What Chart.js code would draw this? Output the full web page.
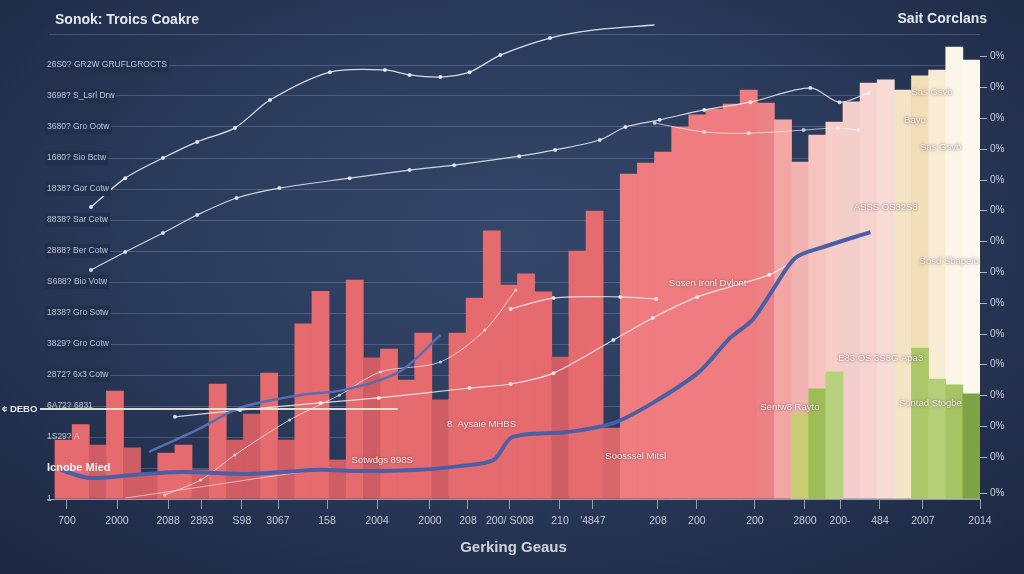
<!DOCTYPE html>
<html>
<head>
<meta charset="utf-8">
<script src="https://cdn.jsdelivr.net/npm/chart.js@4.4.1/dist/chart.umd.min.js"></script>
<style>
  html, body { margin: 0; padding: 0; }
  body {
    width: 1024px; height: 574px; overflow: hidden;
    background: radial-gradient(ellipse 75% 80% at 50% 42%, #34476a 0%, #2b3b5c 45%, #1b2640 100%);
  }
  canvas { display: block; }
</style>
</head>
<body>
<canvas id="myChart" width="1024" height="574"></canvas>
<script>
const chartTitle = "Sonok: Troics Coakre";
const sideTitle = "Sait Corclans";
const axisTitle = "Gerking Geaus";

// bar heights, one per slot, left to right
const barValues = [19, 24, 17.4, 34.8, 16.5, 7.7, 14.8, 17.4, 9.4, 37.1, 19, 27.4, 40.6, 19, 56.5, 67,
  12.6, 70.6, 45.5, 48.4, 38.4, 53.5, 32, 53.5, 64.8, 86.5, 69, 72.6, 66.8, 45.8, 80, 92.9, 22.9,
  104.8, 108.4, 111.9, 120, 123.9, 125.8, 127.4, 131.9, 127.7, 122.3, 108.7, 117.4, 121.6, 128.1,
  134.2, 135.2, 131.9, 136.5, 138.4, 145.8, 141.6];
const barSlots = barValues.map((v, i) => i);

// green bars in front
const greenSlots = [43, 44, 45, 50, 51, 52, 53];
const greenValues = [27.7, 35.5, 41, 48.7, 38.7, 36.8, 33.9];

// lines (x in slot units, y in axis units)
const blueMainX = [-0.2, 1.5, 3.9, 6.8, 10.9, 15, 17.3, 20.8, 23.1, 25.1, 26.2, 29.4, 32.1, 34.4, 37.1, 38.9, 40.2, 41.4, 42.7, 44.2, 47.1];
const blueMainY = [9.4, 6.8, 7.7, 8.7, 8.1, 9.4, 9, 9.4, 10.6, 12.6, 20, 21.6, 24.5, 31, 41, 51.9, 57.7, 67.4, 77.7, 81, 86.1];
const blueSideX = [5, 8, 10.3, 13.8, 16.4, 19.6, 22];
const blueSideY = [15.2, 22.9, 29.4, 33.5, 35.2, 41, 52.9];
const whiteTopX = [1.6, 3.6, 5.8, 7.8, 10, 12.05, 15.55, 18.76, 20.2, 22, 23.7, 25.5, 28.4, 31, 34.5];
const whiteTopY = [94.2, 103.5, 110, 115.2, 119.7, 128.7, 137.7, 138.4, 136.8, 136.1, 137.7, 143.2, 148.7, 151.3, 152.9];
const whiteMidX = [1.6, 3.6, 5.8, 7.8, 10.1, 12.6, 16.7, 20.2, 22.8, 26.6, 28.7, 31.3, 32.8, 34.8, 37.4, 40.1, 43.6, 45.3, 47];
const whiteMidY = [73.9, 79.7, 85.8, 91.6, 97.1, 100.3, 103.5, 106.1, 107.7, 110.6, 112.6, 115.8, 120, 122.3, 125.5, 128, 132.6, 128, 131];
const whiteBranchX = [34.5, 37.4, 40, 43.2, 45.2, 46.4];
const whiteBranchY = [121.3, 118.4, 118, 119, 119.7, 119];
const whiteShortX = [26.1, 28.6, 32.5, 34.6];
const whiteShortY = [61.3, 64.8, 65.2, 64.5];
const whiteLowX = [6.5, 10.3, 15, 18.4, 23.7, 26.1, 28.6, 32.1, 34.4, 37, 41.2, 42.7];
const whiteLowY = [26.5, 28.7, 31, 32.6, 35.8, 37.1, 40.6, 51.3, 58.4, 65.2, 72.3, 77.1];
const whiteRiseX = [5.9, 8, 10, 13.2, 16.1, 18.5, 22, 24.6, 26.4];
const whiteRiseY = [1.3, 6.1, 14.2, 25.5, 33.5, 41, 44.2, 54.5, 67.4];
const pinkLowX = [3.6, 6.8, 11.5, 15.6];
const pinkLowY = [0.3, 2.9, 6.8, 10];

// reference line
const deboValue = 29;
const deboEnd = 19.5;
const deboLabel = "¢ DEBO";

// tick labels
const yTickText = ["1", "Icnobe Mied", "1S29? A", "6A72? 6831", "2872? 6x3 Cotw", "3829? Gro Cotw",
  "1838? Gro Sotw", "S688? Bio Votw", "2888? Ber Cotw", "8838? Sar Cetw", "1838? Gor Cotw",
  "1680? Sio Bctw", "3680? Gro Ootw", "3698? S_Lsrl Drw", "26S0? GR2W GRUFLGROCTS", ""];
const rightTickVals = [1.9, 13.5, 23.5, 33.5, 43.5, 53.2, 63.2, 73.2, 83.2, 93.2, 102.9, 112.9, 122.9, 132.9, 142.9];
const xTickPos = [0.2, 3.12, 6.1, 8.08, 10.41, 12.52, 15.38, 18.3, 21.39, 23.61, 26.06, 28.98, 30.9, 34.7, 36.97, 40.36, 43.28, 45.33, 47.66, 50.17, 53.5];
const xTickLabels = ["700", "2000", "2088", "2893", "S98", "3067", "158", "2004", "2000", "208", "200/ S008",
  "210", "'4847", "208", "200", "200", "2800", "200-", "484", "2007", "2014"];

// in-chart notes
const noteText = ["Sosen Ironl Dvlont", "ASSS OS32S3", "Sosd Sbapeio", "E83 OS 3S3G Apa3", "Sentw8 Rayto",
  "Sontad Stogbe", "8. Aysaie MHBS", "Sotwdgs 898S", "Soosssel Mitsl", "Sas Gsvb", "Bayo", "Sas Gsvb"];
const noteX = [37.6, 48, 51.7, 47.7, 42.4, 50.6, 24.4, 18.6, 33.4, 50.7, 49.7, 51.2];
const noteY = [69.4, 94.2, 76.5, 45.5, 29.4, 31, 24.2, 12.6, 13.9, 131.3, 122, 113.5];

const lightColors = ["#ea8286", "#f3a6a4", "#f1b4b0", "#f6c3be", "#f7cdc8", "#f3cfcb", "#f6d3ce",
  "#f9dcd6", "#f5e4c6", "#f2dfb8", "#f8edd4", "#fcf6e8", "#fdf8ef"];
const greenColors = ["#c9cc72", "#9dbd58", "#b7d27c", "#a9c867", "#b5cf78", "#a6c463", "#7ea347"];

function barColor(i) {
  const v = barValues[i];
  const prev = i > 0 ? barValues[i - 1] : v;
  const next = i < barValues.length - 1 ? barValues[i + 1] : v;
  const low = v < 0.7 * Math.max(prev, next);
  if (i <= 31) return low ? "#cf5d63" : "#e66b6e";
  if (i <= 40) return low ? "#d8676b" : "#ef7d7f";
  return lightColors[i - 41];
}

function points(xs, ys) {
  return xs.map((x, k) => ({ x: x, y: ys[k] }));
}

function tickVal(c) {
  return c && c.tick ? c.tick.value : -1;
}

function lineSet(xs, ys, color, width, radius) {
  return {
    type: "line",
    data: points(xs, ys),
    borderColor: color,
    backgroundColor: color,
    borderWidth: width,
    pointRadius: radius,
    pointBorderWidth: 0,
    tension: 0.3,
    fill: false,
    clip: false,
    order: 0,
  };
}

const headerPlugin = {
  id: "header",
  afterDraw(chart) {
    const c = chart.ctx;
    c.save();
    c.fillStyle = "#e4e8ef";
    c.font = '600 14px "Liberation Sans", Arial, sans-serif';
    c.textBaseline = "middle";
    c.textAlign = "left";
    c.fillText(chartTitle, 55, 20);
    c.textAlign = "right";
    c.fillText(sideTitle, 987, 19);
    c.restore();
  },
};

const notesPlugin = {
  id: "notes",
  afterDatasetsDraw(chart) {
    const c = chart.ctx;
    const xs = chart.scales.x;
    const ys = chart.scales.y;
    c.save();
    //debo line
    const dy = ys.getPixelForValue(deboValue);
    c.strokeStyle = "rgba(232,230,220,0.95)";
    c.lineWidth = 2;
    c.beginPath();
    c.moveTo(40, dy);
    c.lineTo(xs.getPixelForValue(deboEnd), dy);
    c.stroke();
    c.fillStyle = "#e8eaf0";
    c.font = 'bold 9.5px "Liberation Sans", Arial, sans-serif';
    c.textBaseline = "middle";
    c.textAlign = "left";
    c.fillText(deboLabel, 2, dy);
    //notes
    c.font = '9.5px "Liberation Sans", Arial, sans-serif';
    c.textAlign = "center";
    c.shadowColor = "rgba(70,40,50,0.85)";
    c.shadowBlur = 2.5;
    noteText.forEach((t, i) => {
      c.fillStyle = "rgba(250,245,245,0.92)";
      c.fillText(t, xs.getPixelForValue(noteX[i]), ys.getPixelForValue(noteY[i]));
    });
    c.restore();
  },
};

const ctx = document.getElementById("myChart");

const myChart = new Chart(ctx, {
  type: "bar",
  data: {
    datasets: [
      lineSet(blueMainX, blueMainY, "#4b5fa6", 4, 0),
      lineSet(blueSideX, blueSideY, "#5a6db0", 2.5, 0),
      lineSet(whiteTopX, whiteTopY, "rgba(236,238,246,0.9)", 1.3, 2),
      lineSet(whiteMidX, whiteMidY, "rgba(236,238,246,0.85)", 1.2, 2),
      lineSet(whiteBranchX, whiteBranchY, "rgba(236,238,246,0.7)", 1, 2),
      lineSet(whiteShortX, whiteShortY, "rgba(236,238,246,0.85)", 1.2, 2),
      lineSet(whiteLowX, whiteLowY, "rgba(240,240,246,0.85)", 1.2, 2),
      lineSet(whiteRiseX, whiteRiseY, "rgba(240,240,246,0.75)", 1, 1.5),
      lineSet(pinkLowX, pinkLowY, "rgba(250,205,210,0.8)", 1, 0),
      {
        label: "green",
        data: points(greenSlots, greenValues),
        backgroundColor: greenColors,
        barPercentage: 1,
        categoryPercentage: 1,
        grouped: false,
        order: 1,
      },
      {
        label: "amount",
        data: points(barSlots, barValues),
        backgroundColor: barSlots.map(barColor),
        barPercentage: 1,
        categoryPercentage: 1,
        grouped: false,
        order: 3,
      },
    ],
  },
  plugins: [headerPlugin, notesPlugin],
  options: {
    responsive: false,
    animation: false,
    layout: { padding: { left: 47, top: 34, right: 0, bottom: 0 } },
    plugins: { legend: { display: false }, tooltip: { enabled: false } },
    scales: {
      x: {
        type: "linear",
        position: "bottom",
        offset: false,
        min: -0.967,
        max: 53.5,
        afterBuildTicks: (axis) => {
          axis.ticks = xTickPos.map((v) => ({ value: v }));
        },
        afterFit: (axis) => {
          axis.height = 75;
        },
        grid: { offset: false, drawOnChartArea: false, tickLength: 10, color: "rgba(200,205,215,0.7)" },
        border: { color: "rgba(200,205,215,0.6)", dash: [1, 2] },
        ticks: {
          autoSkip: false,
          maxRotation: 0,
          padding: 6,
          color: "#c6cbd6",
          font: { family: "Liberation Sans", size: 10.5 },
          callback: (val, i) => xTickLabels[i],
        },
        title: {
          display: true,
          text: axisTitle,
          color: "#cfd3db",
          font: { family: "Liberation Sans", size: 15, weight: "600" },
          padding: { top: 4, bottom: 17 },
        },
      },
      y: {
        position: "left",
        min: 0,
        max: 150,
        afterFit: (axis) => {
          axis.width = 0;
        },
        grid: { color: "rgba(140,156,188,0.35)", drawTicks: false },
        border: { display: false },
        ticks: {
          stepSize: 10,
          mirror: true,
          padding: 0,
          z: 1,
          color: (c) => (tickVal(c) === 10 ? "#eef0f4" : "#bfc5d2"),
          font: (c) => (tickVal(c) === 10
            ? { family: "Liberation Sans", size: 11, weight: "bold" }
            : { family: "Liberation Sans", size: 8.5 }),
          showLabelBackdrop: true,
          backdropColor: (c) => (tickVal(c) >= 40 ? "#22304f" : "rgba(0,0,0,0)"),
          backdropPadding: 2,
          callback: (val) => yTickText[Math.round(val / 10)],
        },
      },
      y2: {
        position: "right",
        min: 0,
        max: 150,
        afterBuildTicks: (axis) => {
          axis.ticks = rightTickVals.map((v) => ({ value: v }));
        },
        afterFit: (axis) => {
          axis.width = 44;
        },
        grid: { drawOnChartArea: false, tickLength: 7, color: "rgba(210,215,225,0.8)" },
        border: { display: false },
        ticks: {
          padding: 3,
          color: "#c9ced8",
          font: { family: "Liberation Sans", size: 10 },
          callback: () => "0%",
        },
      },
    },
  },
});
</script>
</body>
</html>
